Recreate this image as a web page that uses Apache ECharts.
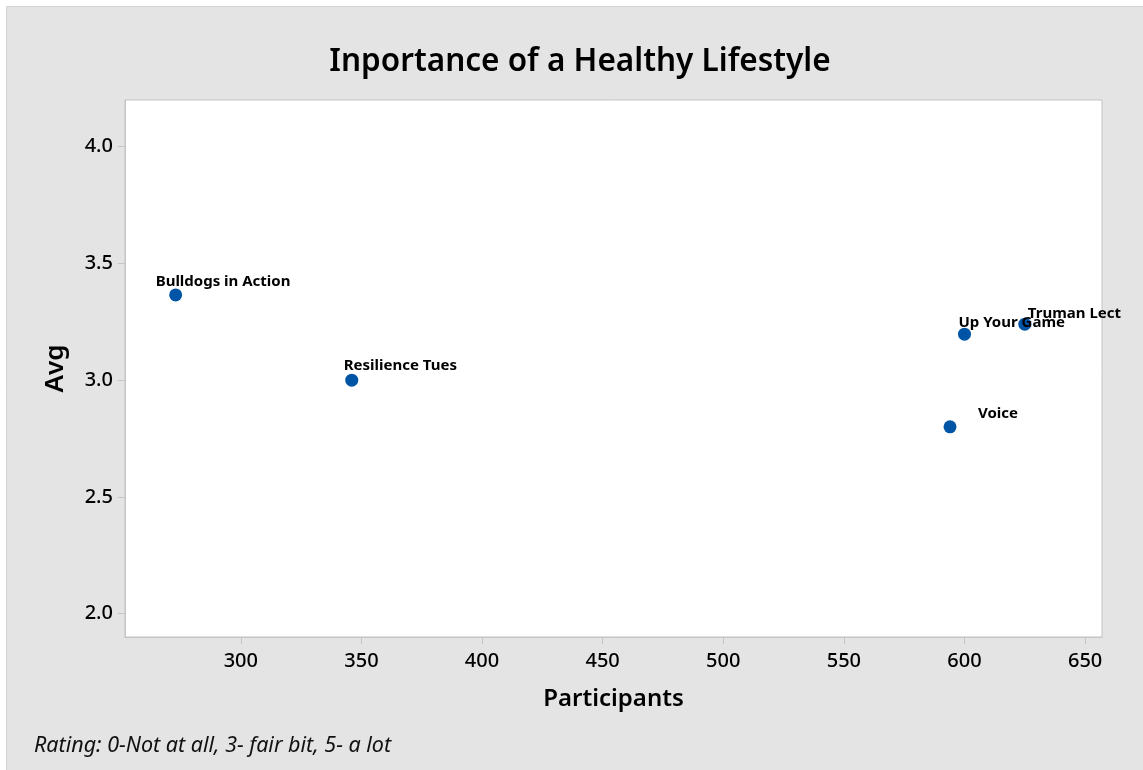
<!DOCTYPE html>
<html>
<head>
<meta charset="utf-8">
<script src="https://cdn.jsdelivr.net/npm/echarts@6/dist/echarts.min.js"></script>
<style>
	html, body { margin: 0; padding: 0; background: #fff; }
	#chart { width: 1143px; height: 770px; }
</style>
</head>
<body>
<div id="chart"></div>
<script>
// data
var names = ['Bulldogs in Action', 'Resilience Tues', 'Up Your Game', 'Truman Lect', 'Voice'];
var participants = [273, 346, 600, 625, 594];
var avg = [3.365, 3.0, 3.197, 3.24, 2.8];
var xTicks = [300, 350, 400, 450, 500, 550, 600, 650];
var yTicks = [2.0, 2.5, 3.0, 3.5, 4.0];

// where each label sits relative to its point (text left edge, text middle)
var labelShift = [[-20, -13], [-8, -14], [-6, -11], [3, -10], [28, -13]];

var font = '"Noto Sans", "Open Sans", sans-serif';
var symSize = 13;

var points = [];
for (var i = 0; i < names.length; i++) {
	points.push({
		name: names[i],
		value: [participants[i], avg[i]],
		label: {
			position: [labelShift[i][0] + symSize / 2, labelShift[i][1] + symSize / 2]
		}
	});
}

var myChart = echarts.init(document.getElementById('chart'));

var option = {
	backgroundColor: '#fff',
	animation: false,
	graphic: [
		{
			type: 'rect',
			z: -10,
			shape: { x: 6.5, y: 6.5, width: 1140, height: 770 },
			style: { fill: '#e4e4e4', stroke: '#d4d4d4', lineWidth: 1 }
		},
		{
			type: 'text',
			x: 580,
			y: 62,
			style: {
				text: 'Inportance of a Healthy Lifestyle',
				font: '600 31.5px ' + font,
				fill: '#000',
				textAlign: 'center',
				textVerticalAlign: 'middle'
			}
		},
		{
			type: 'text',
			x: 34,
			y: 746,
			style: {
				text: 'Rating: 0-Not at all, 3- fair bit, 5- a lot',
				font: 'italic 21.5px ' + font,
				fill: '#111',
				textAlign: 'left',
				textVerticalAlign: 'middle'
			}
		}
	],
	grid: {
		left: 125,
		top: 100,
		right: 41,
		bottom: 133,
		show: true,
		backgroundColor: '#fff',
		borderColor: '#c4c4c4',
		borderWidth: 1
	},
	xAxis: {
		type: 'value',
		min: 252,
		max: 657,
		name: 'Participants',
		nameLocation: 'middle',
		nameGap: 50,
		nameTextStyle: { fontFamily: font, fontSize: 24, fontWeight: 600, color: '#000' },
		splitLine: { show: false },
		axisLine: { show: true, lineStyle: { color: '#c4c4c4' } },
		axisTick: { show: true, length: 7, customValues: xTicks, lineStyle: { color: '#c4c4c4' } },
		axisLabel: {
			customValues: xTicks,
			margin: 14,
			fontFamily: font,
			fontSize: 20,
			fontWeight: 500,
			color: '#000'
		}
	},
	yAxis: {
		type: 'value',
		min: 1.9,
		max: 4.2,
		name: 'Avg',
		nameLocation: 'middle',
		nameGap: 56,
		nameTextStyle: { fontFamily: font, fontSize: 26, fontWeight: 600, color: '#000' },
		splitLine: { show: false },
		axisLine: { show: true, lineStyle: { color: '#c4c4c4' } },
		axisTick: { show: true, length: 7, customValues: yTicks, lineStyle: { color: '#c4c4c4' } },
		axisLabel: {
			customValues: yTicks,
			margin: 12,
			fontFamily: font,
			fontSize: 20,
			fontWeight: 500,
			color: '#000',
			formatter: function (v) { return v.toFixed(1); }
		}
	},
	series: [
		{
			type: 'scatter',
			symbol: 'circle',
			symbolSize: symSize,
			itemStyle: { color: '#0054a6', opacity: 1 },
			label: {
				show: true,
				formatter: '{b}',
				align: 'left',
				verticalAlign: 'middle',
				fontFamily: font,
				fontSize: 15,
				fontWeight: 'bold',
				color: '#000'
			},
			labelLayout: { hideOverlap: false },
			data: points
		}
	]
};

myChart.setOption(option);
</script>
</body>
</html>
